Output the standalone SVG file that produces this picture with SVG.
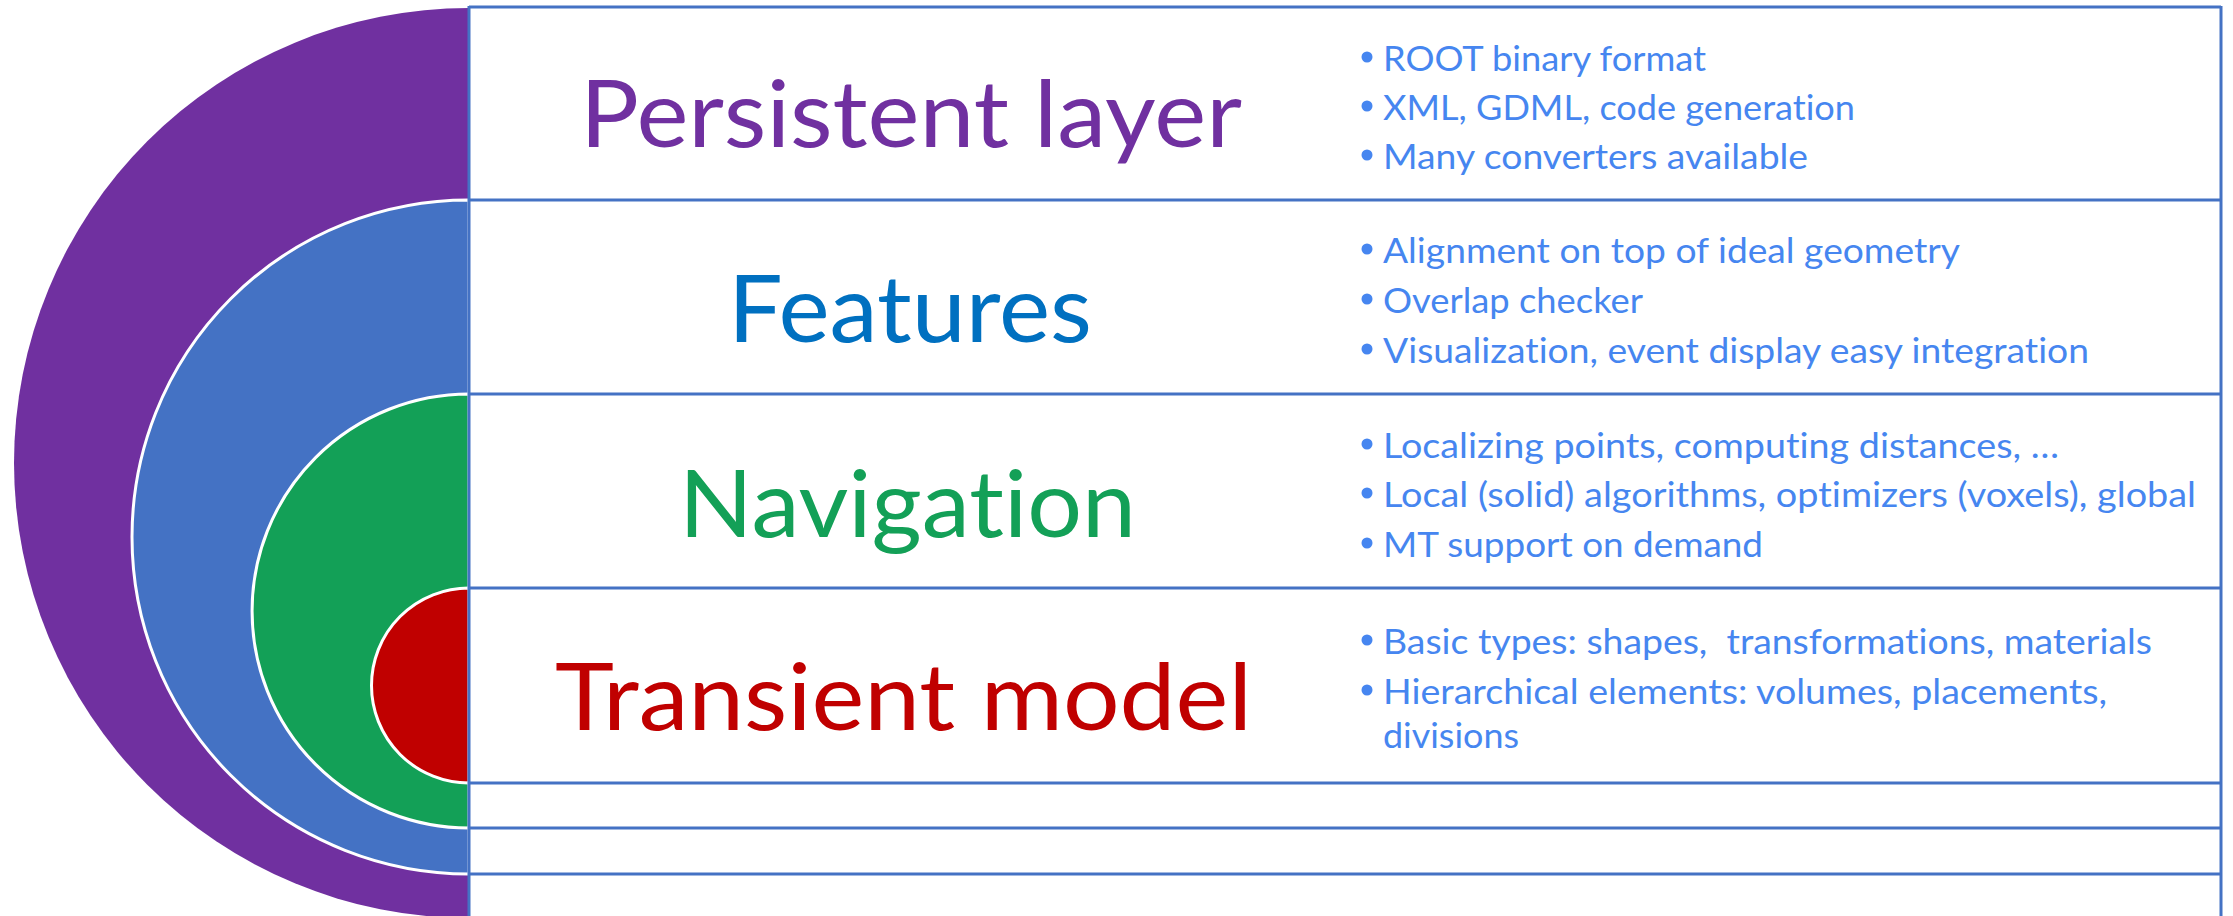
<svg xmlns="http://www.w3.org/2000/svg" width="2233" height="916" viewBox="0 0 2233 916">
  <style>
    .grid { stroke: #4472C4; stroke-width: 3; fill: none; }
    .ring { stroke: #ffffff; stroke-width: 3; }
    text { font-variant-ligatures: none; font-feature-settings: "liga" 0, "clig" 0; }
    .head { font-family: Lato, "Open Sans", "Liberation Sans", sans-serif; font-size: 93px; }
    .item { font-family: Lato, "Open Sans", "Liberation Sans", sans-serif; font-size: 35.5px; fill: #4686F0; white-space: pre; }
    .dot { fill: #4686F0; }
  </style>
  <rect width="2233" height="916" fill="#ffffff"/>

  <!-- nested half-discs, outermost first -->
  <g id="persistent-layer">
    <path d="M469,8 A455,455 0 0 0 469,918 Z" fill="#7030A0"/>
  </g>
  <g id="features">
    <path class="ring" d="M469,200 A337,337 0 0 0 469,874 Z" fill="#4472C4"/>
  </g>
  <g id="navigation">
    <path class="ring" d="M469,394 A217,217 0 0 0 469,828 Z" fill="#13A057"/>
  </g>
  <g id="transient-model">
    <path class="ring" d="M469,588 A97.5,97.5 0 0 0 469,783 Z" fill="#C00000"/>
  </g>

  <!-- table rules -->
  <g id="connectors" class="grid">
    <line x1="469" y1="7" x2="2221" y2="7"/>
    <line x1="469" y1="6" x2="469" y2="916"/>
    <line x1="2221" y1="6" x2="2221" y2="916"/>
    <line x1="469" y1="200" x2="2221" y2="200"/>
    <line x1="469" y1="394" x2="2221" y2="394"/>
    <line x1="469" y1="588" x2="2221" y2="588"/>
    <line x1="469" y1="783" x2="2221" y2="783"/>
    <line x1="469" y1="828" x2="2221" y2="828"/>
    <line x1="469" y1="874" x2="2221" y2="874"/>
  </g>

  <!-- row: persistent layer -->
  <g id="row-persistent">
    <text class="head" x="580" y="147" fill="#7030A0" textLength="662" lengthAdjust="spacingAndGlyphs">Persistent layer</text>
    <circle class="dot" cx="1367" cy="57" r="5.5"/>
    <text class="item" x="1383" y="71" textLength="323" lengthAdjust="spacingAndGlyphs">ROOT binary format</text>
    <circle class="dot" cx="1367" cy="106" r="5.5"/>
    <text class="item" x="1383" y="120" textLength="472" lengthAdjust="spacingAndGlyphs">XML, GDML, code generation</text>
    <circle class="dot" cx="1367" cy="155" r="5.5"/>
    <text class="item" x="1383" y="169" textLength="425" lengthAdjust="spacingAndGlyphs">Many converters available</text>
  </g>

  <!-- row: features -->
  <g id="row-features">
    <text class="head" x="728" y="342" fill="#0070C0" textLength="364" lengthAdjust="spacingAndGlyphs">Features</text>
    <circle class="dot" cx="1367" cy="249" r="5.5"/>
    <text class="item" x="1383" y="263" textLength="577" lengthAdjust="spacingAndGlyphs">Alignment on top of ideal geometry</text>
    <circle class="dot" cx="1367" cy="299" r="5.5"/>
    <text class="item" x="1383" y="313" textLength="260" lengthAdjust="spacingAndGlyphs">Overlap checker</text>
    <circle class="dot" cx="1367" cy="349" r="5.5"/>
    <text class="item" x="1383" y="363" textLength="706" lengthAdjust="spacingAndGlyphs">Visualization, event display easy integration</text>
  </g>

  <!-- row: navigation -->
  <g id="row-navigation">
    <text class="head" x="679" y="537" fill="#13A057" textLength="457" lengthAdjust="spacingAndGlyphs">Navigation</text>
    <circle class="dot" cx="1367" cy="444" r="5.5"/>
    <text class="item" x="1383" y="458" textLength="676" lengthAdjust="spacingAndGlyphs">Localizing points, computing distances, …</text>
    <circle class="dot" cx="1367" cy="493" r="5.5"/>
    <text class="item" x="1383" y="507" textLength="813" lengthAdjust="spacingAndGlyphs">Local (solid) algorithms, optimizers (voxels), global</text>
    <circle class="dot" cx="1367" cy="543" r="5.5"/>
    <text class="item" x="1383" y="557" textLength="380" lengthAdjust="spacingAndGlyphs">MT support on demand</text>
  </g>

  <!-- row: transient model -->
  <g id="row-transient">
    <text class="head" x="555" y="730" fill="#C00000" textLength="697" lengthAdjust="spacingAndGlyphs">Transient model</text>
    <circle class="dot" cx="1367" cy="640" r="5.5"/>
    <text class="item" x="1383" y="654" textLength="769" lengthAdjust="spacingAndGlyphs">Basic types: shapes,  transformations, materials</text>
    <circle class="dot" cx="1367" cy="690" r="5.5"/>
    <text class="item" x="1383" y="704" textLength="724" lengthAdjust="spacingAndGlyphs">Hierarchical elements: volumes, placements,</text>
    <text class="item" x="1383" y="748" textLength="136" lengthAdjust="spacingAndGlyphs">divisions</text>
  </g>
</svg>
